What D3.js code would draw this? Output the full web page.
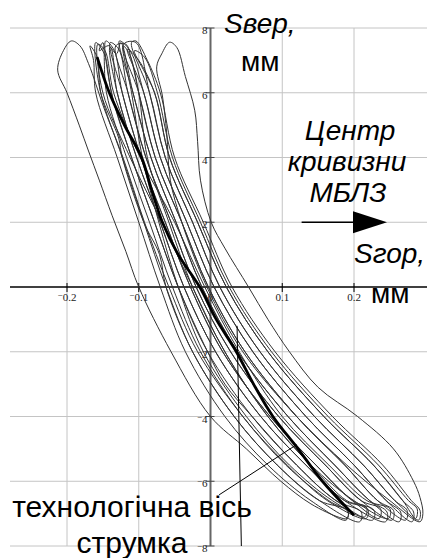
<!DOCTYPE html>
<html>
<head>
<meta charset="utf-8">
<script src="https://cdn.jsdelivr.net/npm/d3@7"></script>
<style>
  body { margin: 0; background: #fff; }
  .tick-lbl { font-family: "Liberation Serif", "Times New Roman", serif; font-size: 11px; fill: #222; }
  .big { font-family: "Liberation Sans", Arial, sans-serif; font-size: 28px; fill: #000; }
</style>
</head>
<body>
<svg id="chart" width="427" height="558"></svg>
<script>
// horizontal / vertical displacement of the strand, mm  ([Sгор, Sвер])
var xTicks = [-0.2, -0.1, 0, 0.1, 0.2];
var xTickLabels = ["-0.2", "-0.1", "0", "0.1", "0.2"];
var yTicks = [8, 6, 4, 2, -2, -4, -6, -8];
var yTickLabels = ["8", "6", "4", "2", "-2", "-4", "-6", "-8"];

// averaged trajectory (thick line)
var meanPath = [[-0.158, 7.1], [-0.141, 6], [-0.12, 5], [-0.096, 4], [-0.082, 3], [-0.067, 2], [-0.045, 1],
  [-0.015, 0], [0.008, -1], [0.036, -2], [0.06, -3], [0.087, -4], [0.122, -5], [0.156, -6], [0.2, -7.05]];

// outermost loops
var loopOuterLeft = [[-0.194, 7.6], [-0.205, 7.3], [-0.213, 6.7], [-0.2, 6], [-0.183, 5], [-0.17, 4.2], [-0.155, 3.3],
  [-0.137, 2.2], [-0.118, 1.1], [-0.1, 0], [-0.055, -2], [0, -4], [0.05, -5], [0.098, -6], [0.14, -6.7], [0.18, -7.12],
  [0.19, -7.15], [0.192, -6.95], [0.165, -6.6], [0.105, -5.5], [0.045, -4], [-0.018, -2], [-0.058, 0], [-0.092, 2],
  [-0.122, 4], [-0.148, 5.5], [-0.17, 6.9], [-0.182, 7.45]];
var loopOuterRight = [[-0.057, 7.56], [-0.068, 7.2], [-0.075, 6.8], [-0.067, 5.9], [-0.061, 4.75], [-0.056, 3.3],
  [-0.04, 2], [-0.005, 0], [0.045, -2], [0.12, -4], [0.19, -5.5], [0.25, -6.6], [0.292, -7.25], [0.296, -7],
  [0.292, -6.5], [0.283, -6], [0.255, -5], [0.205, -4], [0.15, -3.1], [0.11, -2], [0.08, -1], [0.053, 0],
  [0.02, 1.2], [0.001, 2], [-0.014, 3.3], [-0.018, 4.5], [-0.022, 5.46], [-0.035, 6.5], [-0.047, 7.4]];

// loops of the bundle
var loopA = [[-0.168, 7.45], [-0.163, 7.0], [-0.16, 6], [-0.13, 4], [-0.1, 2], [-0.07, 0], [-0.035, -2], [0.02, -4], [0.08, -5.5], [0.14, -6.6],
  [0.189, -7.2], [0.191, -6.9], [0.152, -6.6], [0.093, -5.5], [0.033, -4], [-0.025, -2], [-0.062, 0], [-0.093, 2], [-0.123, 4], [-0.153, 6], [-0.158, 7.1]];
var loopB = [[-0.16, 7.55], [-0.153, 6], [-0.128, 4.6], [-0.123, 4], [-0.093, 2], [-0.071, 1], [-0.062, 0], [-0.025, -2], [0.033, -4], [0.093, -5.5], [0.152, -6.6],
  [0.208, -7.25], [0.21, -6.95], [0.175, -6.6], [0.12, -5.5], [0.058, -4], [0.02, -3], [-0.004, -2], [-0.045, 0], [-0.078, 2], [-0.11, 4], [-0.138, 6], [-0.148, 7.2]];
var loopC = [[-0.155, 7.3], [-0.15, 7.55], [-0.145, 6], [-0.117, 4], [-0.085, 2], [-0.053, 0], [-0.014, -2], [0.045, -4], [0.107, -5.5], [0.163, -6.6],
  [0.217, -7.15], [0.219, -6.85], [0.187, -6.6], [0.133, -5.5], [0.07, -4], [0.007, -2], [-0.037, 0], [-0.07, 2], [-0.103, 4], [-0.13, 6], [-0.141, 7.45]];
var loopD = [[-0.146, 7.6], [-0.138, 6], [-0.11, 4], [-0.078, 2], [-0.045, 0], [-0.004, -2], [0.058, -4], [0.12, -5.5], [0.175, -6.6],
  [0.226, -7.2], [0.228, -6.9], [0.198, -6.6], [0.147, -5.5], [0.083, -4], [0.017, -2], [-0.028, 0], [-0.063, 2], [-0.085, 3.2], [-0.097, 4], [-0.123, 6], [-0.134, 7.3]];
var loopE = [[-0.14, 7.4], [-0.13, 6], [-0.103, 4], [-0.07, 2], [-0.037, 0], [0.007, -2], [0.07, -4], [0.133, -5.5], [0.187, -6.6],
  [0.244, -7.25], [0.246, -6.95], [0.222, -6.6], [0.173, -5.5], [0.108, -4], [0.038, -2], [-0.012, 0], [-0.048, 2], [-0.083, 4], [-0.108, 6], [-0.125, 7.55], [-0.131, 7.2]];
var loopF = [[-0.14, 7.55], [-0.123, 6], [-0.097, 4], [-0.063, 2], [-0.028, 0], [0.017, -2], [0.083, -4], [0.147, -5.5], [0.198, -6.6],
  [0.235, -7.15], [0.237, -6.85], [0.21, -6.6], [0.16, -5.5], [0.095, -4], [0.028, -2], [-0.02, 0], [-0.055, 2], [-0.09, 4], [-0.115, 6], [-0.128, 7.35]];
var loopG = [[-0.132, 7.45], [-0.115, 6], [-0.09, 4], [-0.055, 2], [-0.02, 0], [0.028, -2], [0.095, -4], [0.16, -5.5], [0.21, -6.6],
  [0.253, -7.2], [0.255, -6.9], [0.233, -6.6], [0.187, -5.5], [0.12, -4], [0.048, -2], [-0.003, 0], [-0.04, 2], [-0.077, 4], [-0.1, 6], [-0.11, 7.0], [-0.118, 7.5]];
var loopH = [[-0.127, 7.6], [-0.108, 6], [-0.083, 4], [-0.048, 2], [-0.012, 0], [0.038, -2], [0.108, -4], [0.173, -5.5], [0.222, -6.6],
  [0.263, -7.25], [0.265, -6.95], [0.245, -6.6], [0.2, -5.5], [0.133, -4], [0.059, -2], [0.005, 0], [-0.033, 2], [-0.07, 4], [-0.093, 6], [-0.112, 7.3]];
var loopI = [[-0.121, 7.5], [-0.1, 6], [-0.077, 4], [-0.04, 2], [-0.003, 0], [0.048, -2], [0.12, -4], [0.187, -5.5], [0.233, -6.6],
  [0.272, -7.2], [0.274, -6.9], [0.257, -6.6], [0.213, -5.5], [0.145, -4], [0.069, -2], [0.013, 0], [-0.025, 2], [-0.063, 4], [-0.085, 6], [-0.104, 7.55]];
var loopJ = [[-0.116, 7.35], [-0.093, 6], [-0.07, 4], [-0.033, 2], [0.005, 0], [0.059, -2], [0.133, -4], [0.2, -5.5], [0.245, -6.6],
  [0.281, -7.25], [0.283, -6.95], [0.268, -6.6], [0.227, -5.5], [0.158, -4], [0.08, -2], [0.022, 0], [-0.018, 2], [-0.057, 4], [-0.078, 6], [-0.1, 7.0]];
var loopK = [[-0.11, 7.55], [-0.085, 6], [-0.063, 4], [-0.025, 2], [0.013, 0], [0.069, -2], [0.145, -4], [0.213, -5.5], [0.257, -6.6],
  [0.29, -7.2], [0.292, -6.9], [0.28, -6.6], [0.24, -5.5], [0.17, -4], [0.09, -2], [0.03, 0], [-0.01, 2], [-0.05, 4], [-0.07, 6], [-0.088, 7.0], [-0.104, 7.6]];
var loopL = [[-0.106, 7.3], [-0.078, 6], [-0.057, 4], [-0.018, 2], [0.022, 0], [0.08, -2], [0.158, -4], [0.227, -5.5], [0.268, -6.6],
  [0.286, -7.15], [0.288, -6.85], [0.276, -6.6], [0.234, -5.5], [0.164, -4], [0.085, -2], [0.026, 0], [-0.014, 2], [-0.053, 4], [-0.074, 6], [-0.092, 7.1]];
var loopM = [[-0.122, 7.45], [-0.11, 6], [-0.095, 4], [-0.072, 2], [-0.045, 0], [-0.01, -2], [0.05, -4], [0.11, -5.5], [0.17, -6.6],
  [0.215, -7.1], [0.217, -6.8], [0.19, -6.6], [0.14, -5.5], [0.08, -4], [0.02, -2], [-0.025, 0], [-0.058, 2], [-0.088, 4], [-0.1, 6], [-0.113, 7.2]];
var loopN = [[-0.157, 7.5], [-0.15, 6], [-0.112, 4], [-0.068, 2], [-0.025, 0], [0.02, -2], [0.08, -4], [0.14, -5.5], [0.2, -6.6],
  [0.248, -7.15], [0.25, -6.85], [0.218, -6.6], [0.165, -5.5], [0.1, -4], [0.04, -2], [-0.008, 0], [-0.05, 2], [-0.098, 4], [-0.135, 6], [-0.147, 7.3]];

var loops = [loopOuterLeft, loopOuterRight, loopA, loopB, loopC, loopD, loopE, loopF, loopG,
  loopH, loopI, loopJ, loopK, loopL, loopM, loopN];

// technological axis of the strand and annotation anchors
var strandAxis = [[0.037, -1.2], [0.043, -8]];
var leader = [[0.012, -6.42], [0.12, -4.87]];
var arrowSpan = [[0.127, 2], [0.246, 2]];

var svg = d3.select("#chart");

var x = d3.scaleLinear().domain([-0.2, 0.2]).range([67, 354]);
var y = d3.scaleLinear().domain([-8, 8]).range([546, 28]);

// grid
svg.append("g").selectAll("line").data(yTicks).enter().append("line")
  .attr("x1", 10).attr("x2", 427)
  .attr("y1", function(d) { return y(d); }).attr("y2", function(d) { return y(d); })
  .attr("stroke", "#c4c4c4").attr("stroke-width", 1);
svg.append("g").selectAll("line").data(xTicks.filter(function(d) { return d !== 0; })).enter().append("line")
  .attr("y1", y(8)).attr("y2", y(-8))
  .attr("x1", function(d) { return x(d); }).attr("x2", function(d) { return x(d); })
  .attr("stroke", "#c4c4c4").attr("stroke-width", 1);

// x axis (black) and y axis (grey)
svg.append("line").attr("x1", 10).attr("x2", 427).attr("y1", y(0)).attr("y2", y(0))
  .attr("stroke", "#000").attr("stroke-width", 1.5);
svg.append("g").selectAll("line").data(xTicks).enter().append("line")
  .attr("x1", function(d) { return x(d); }).attr("x2", function(d) { return x(d); })
  .attr("y1", y(0) - 4).attr("y2", y(0) + 5)
  .attr("stroke", "#000").attr("stroke-width", 1);

svg.append("line").attr("x1", x(0)).attr("x2", x(0)).attr("y1", y(8)).attr("y2", y(-8))
  .attr("stroke", "#666").attr("stroke-width", 2);
svg.append("g").selectAll("line").data(yTicks).enter().append("line")
  .attr("x1", x(0) - 5).attr("x2", x(0) + 4)
  .attr("y1", function(d) { return y(d); }).attr("y2", function(d) { return y(d); })
  .attr("stroke", "#444").attr("stroke-width", 1);

// tick labels, the minus is raised like in Mathcad
function tickText(sel, label) {
  if (label.charAt(0) === "-") {
    sel.append("tspan").attr("dy", -3).attr("font-size", 9).text("\u2212");
    sel.append("tspan").attr("dy", 3).text(label.slice(1));
  } else {
    sel.text(label);
  }
}
svg.append("g").selectAll("text").data(xTicks).enter().append("text")
  .attr("class", "tick-lbl")
  .attr("x", function(d) { return x(d); })
  .attr("y", y(0) + 14)
  .attr("text-anchor", "middle")
  .each(function(d, i) { tickText(d3.select(this), xTickLabels[i]); });
svg.append("g").selectAll("text").data(yTicks).enter().append("text")
  .attr("class", "tick-lbl")
  .attr("x", x(0) - 3)
  .attr("y", function(d) { return y(d) + 6; })
  .attr("text-anchor", "end")
  .each(function(d, i) { tickText(d3.select(this), yTickLabels[i]); });

// the loops
var loopLine = d3.line()
  .x(function(d) { return x(d[0]); })
  .y(function(d) { return y(d[1]); })
  .curve(d3.curveCatmullRomClosed.alpha(0.5));

svg.append("g").selectAll("path").data(loops).enter().append("path")
  .attr("d", loopLine)
  .attr("fill", "none")
  .attr("stroke", "#333")
  .attr("stroke-width", 1);

var openLine = d3.line()
  .x(function(d) { return x(d[0]); })
  .y(function(d) { return y(d[1]); })
  .curve(d3.curveCatmullRom.alpha(0.5));

svg.append("path").datum(meanPath)
  .attr("d", openLine)
  .attr("fill", "none")
  .attr("stroke", "#000")
  .attr("stroke-width", 2.8);

svg.append("path").datum(strandAxis)
  .attr("d", d3.line().x(function(d) { return x(d[0]); }).y(function(d) { return y(d[1]); }))
  .attr("stroke", "#000").attr("stroke-width", 1);

svg.append("path").datum(leader)
  .attr("d", d3.line().x(function(d) { return x(d[0]); }).y(function(d) { return y(d[1]); }))
  .attr("stroke", "#000").attr("stroke-width", 1);

// arrow to the centre of curvature
var ax0 = x(arrowSpan[0][0]), ax1 = x(arrowSpan[1][0]), ay = y(arrowSpan[0][1]);
svg.append("line").attr("x1", ax0).attr("x2", ax1 - 30).attr("y1", ay).attr("y2", ay)
  .attr("stroke", "#000").attr("stroke-width", 1.5);
svg.append("path")
  .attr("d", "M" + (ax1 - 34) + "," + (ay - 11) + "L" + ax1 + "," + ay + "L" + (ax1 - 34) + "," + (ay + 11) + "Z")
  .attr("fill", "#000");

// captions
function caption(txt, px, py, italic, anchor, size) {
  svg.append("text").attr("class", "big")
    .attr("x", px).attr("y", py)
    .attr("text-anchor", anchor || "start")
    .attr("font-style", italic ? "italic" : "normal")
    .style("font-size", size ? size + "px" : null)
    .text(txt);
}
caption("S\u0432\u0435\u0440,", 224, 33, true);
caption("\u043c\u043c", 241, 71, false);
caption("\u0426\u0435\u043d\u0442\u0440", 350, 140, true, "middle");
caption("\u043a\u0440\u0438\u0432\u0438\u0437\u043d\u0438", 347, 171, true, "middle");
caption("\u041c\u0411\u041b\u0417", 348, 202, true, "middle");
caption("S\u0433\u043e\u0440,", 354, 263, true);
caption("\u043c\u043c", 371, 303, false);
caption("\u0442\u0435\u0445\u043d\u043e\u043b\u043e\u0433\u0456\u0447\u043d\u0430 \u0432\u0456\u0441\u044c", 132, 517, false, "middle", 30);
caption("\u0441\u0442\u0440\u0443\u043c\u043a\u0430", 132, 553, false, "middle", 30);
</script>
</body>
</html>
